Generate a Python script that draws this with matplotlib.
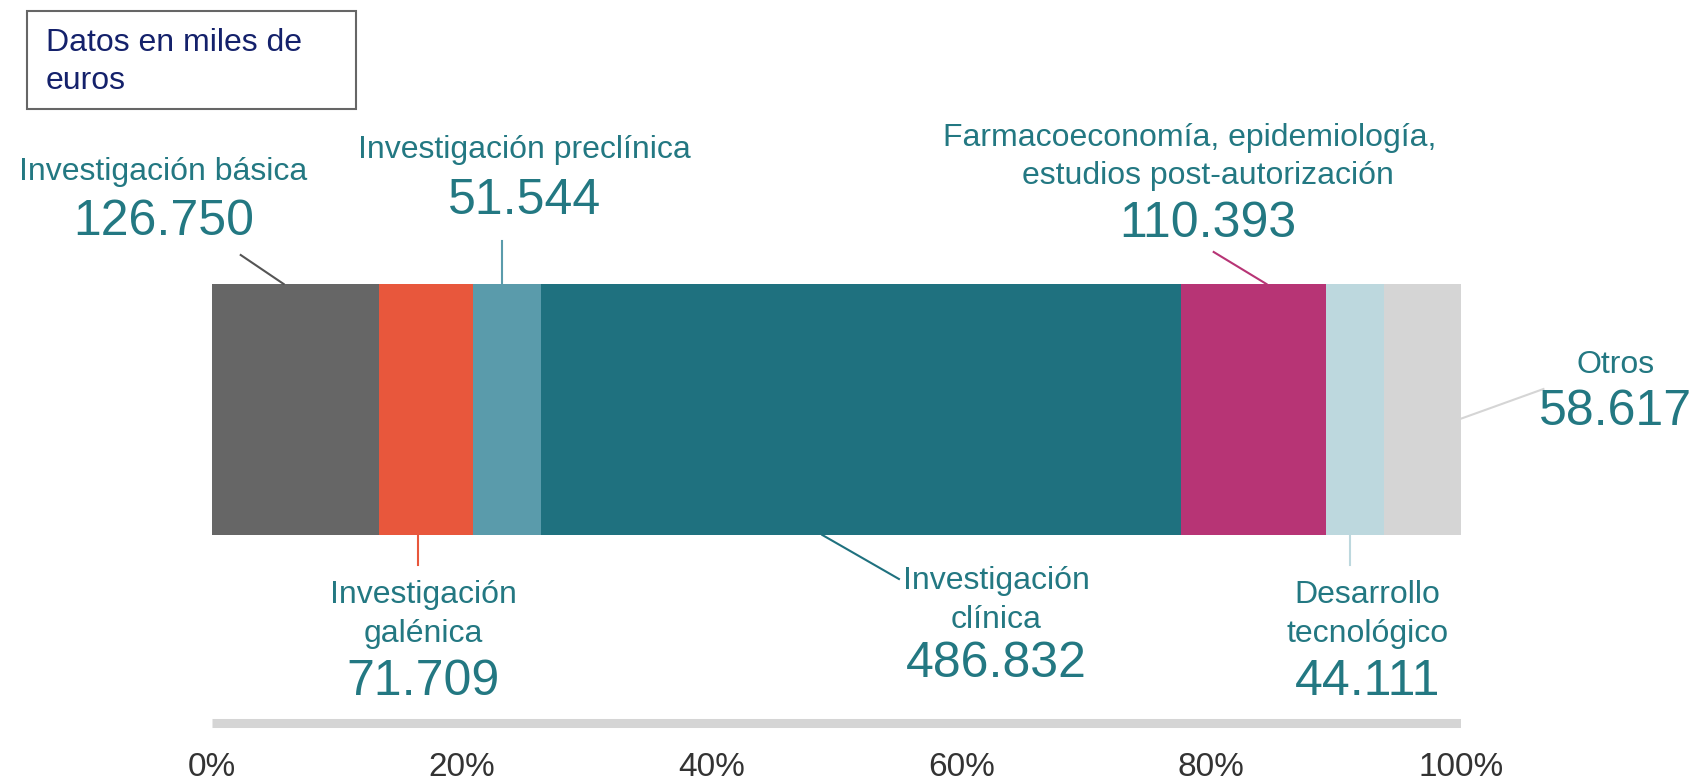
import numpy as np
import matplotlib
matplotlib.use("Agg")
import matplotlib.pyplot as plt
from matplotlib.patches import Rectangle

plt.rcParams['font.family'] = ['Liberation Sans', 'DejaVu Sans']

# Data (miles de euros)
categories = ['Investigación básica', 'Investigación galénica', 'Investigación preclínica',
              'Investigación clínica', 'Farmacoeconomía, epidemiología, estudios post-autorización',
              'Desarrollo tecnológico', 'Otros']
values = [126.750, 71.709, 51.544, 486.832, 110.393, 44.111, 58.617]
value_labels = ['126.750', '71.709', '51.544', '486.832', '110.393', '44.111', '58.617']
label_lines = [['Investigación básica'],
               ['Investigación', 'galénica'],
               ['Investigación preclínica'],
               ['Investigación', 'clínica'],
               ['Farmacoeconomía, epidemiología,', 'estudios post-autorización'],
               ['Desarrollo', 'tecnológico'],
               ['Otros']]
colors = ['#666666', '#E8573C', '#5A9BAB', '#1F717F', '#B73475', '#BDD8DE', '#D5D5D5']
pct_ticks = [0, 0.2, 0.4, 0.6, 0.8, 1.0]
pct_labels = ['0%', '20%', '40%', '60%', '80%', '100%']

text_col = '#237882'

W, H = 1702, 782
fig = plt.figure(figsize=(W / 100, H / 100), dpi=100)
# axes spans 0..1 (share of total) horizontally, pixel rows vertically
ax = fig.add_axes([212 / W, 0, (1461 - 212) / W, 1])
ax.set_xlim(0, 1)
ax.set_ylim(H, 0)
ax.axis('off')

shares = np.array(values) / np.sum(values)
lefts = np.concatenate([[0], np.cumsum(shares)[:-1]])
bar_top, bar_bot = 284, 535
ax.barh((bar_top + bar_bot) / 2, shares, left=lefts, height=bar_bot - bar_top,
        color=colors, edgecolor='none')

# bottom scale line and ticks
ax.plot([0, 1], [723, 723], color='#D5D5D5', lw=6.5, solid_capstyle='butt')
for t, lab in zip(pct_ticks, pct_labels):
    ax.text(t, 768, lab, ha='center', va='center', fontsize=24, color='#333333')

# label placement: label x, line ys, value y, leader start x / end frac in segment, leader ys
fs_lab = 23
fs_val = 36
place = [
    dict(x=-0.039, ys=[172], vy=222, lx=(0.023, 0.43), ly=(255, bar_top)),
    dict(x=0.169, ys=[595, 634], vy=682, lx=(None, 0.42), ly=(565, bar_bot)),
    dict(x=0.25, ys=[150], vy=201, lx=(None, 0.43), ly=(241, bar_top)),
    dict(x=0.628, ys=[581, 620], vy=664, lx=(0.550, 0.44), ly=(579, bar_bot)),
    dict(x=0.797, ys=[138, 176], vy=224, lx=(0.802, 0.59), ly=(252, bar_top)),
    dict(x=0.925, ys=[595, 634], vy=682, lx=(None, 0.41), ly=(565, bar_bot)),
    dict(x=1.124, ys=[365], vy=412, lx=(1.066, 0.88), ly=(389, 422)),
]
line_colors = ['#555555', '#E8573C', '#5A9BAB', '#1F717F', '#B73475', '#BDD8DE', '#D5D5D5']

for i, p in enumerate(place):
    lines = label_lines[i]
    for j, (ln, y) in enumerate(zip(lines, p['ys'])):
        x = p['x']
        if i == 4 and j == 0:
            x = 0.783
        ax.text(x, y, ln, ha='center', va='center', fontsize=fs_lab, color=text_col)
    ax.text(p['x'], p['vy'], value_labels[i], ha='center', va='center', fontsize=fs_val,
            color=text_col)
    x_end = lefts[i] + shares[i] * p['lx'][1]
    x_start = p['lx'][0] if p['lx'][0] is not None else x_end
    ax.plot([x_start, x_end], [p['ly'][0], p['ly'][1]], color=line_colors[i], lw=1.5,
            clip_on=False)

# note box
fig.patches.append(Rectangle((27 / W, 1 - 109 / H), (356 - 27) / W, (109 - 11) / H,
                             transform=fig.transFigure, fill=False, edgecolor='#666666', lw=1.5))
fig.text(46 / W, 1 - 43 / H, 'Datos en miles de', ha='left', va='center', fontsize=23,
         color='#14216B')
fig.text(46 / W, 1 - 81 / H, 'euros', ha='left', va='center', fontsize=23, color='#14216B')

fig.savefig('out.png', dpi=100)
